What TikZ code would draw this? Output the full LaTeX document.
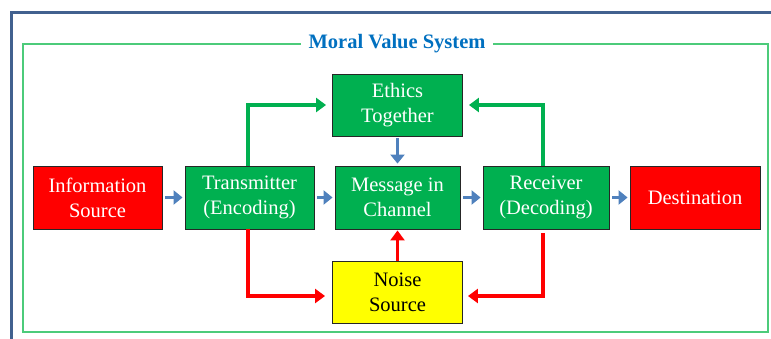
\documentclass[tikz,border=0pt]{standalone}
\usepackage{fontspec}
\setmainfont{Liberation Serif}
\usetikzlibrary{arrows.meta,calc}
\definecolor{boxgreen}{HTML}{00B050}
\definecolor{boxred}{HTML}{FF0000}
\definecolor{boxyellow}{HTML}{FFFF00}
\definecolor{arrblue}{HTML}{4F81BD}
\definecolor{framegreen}{HTML}{4CCB7A}
\definecolor{titleblue}{HTML}{0070C0}
\definecolor{outerblue}{HTML}{41618F}
\tikzset{
  blk/.style={draw=black!85, line width=0.9pt, minimum height=63pt, align=center,
    font=\fontsize{20.5}{25}\selectfont, inner sep=2pt},
  gbox/.style={blk, fill=boxgreen, text=white},
  rbox/.style={blk, fill=boxred, text=white},
  ybox/.style={blk, fill=boxyellow, text=black},
  barrow/.style={draw=arrblue, line width=3.8pt, -{Triangle[length=9pt,width=14pt]}},
  garrow/.style={draw=boxgreen, line width=3.5pt, -{Triangle[length=10pt,width=14pt]}},
  rarrow/.style={draw=boxred, line width=3.5pt, -{Triangle[length=10pt,width=14pt]}},
}
\begin{document}
\begin{tikzpicture}[x=1pt,y=-1pt]
\useasboundingbox (0,0) rectangle (771,338);
\fill[white] (0,0) rectangle (771,338);
% outer frame
\draw[outerblue, line width=3.5pt] (11.5,345) -- (11.5,12.5) -- (780,12.5);
% green frame
\draw[framegreen, line width=1.2pt] (23,44) rectangle (768,332);
\node[fill=white, inner xsep=8pt, inner ysep=2pt, text=titleblue,
  font=\bfseries\fontsize{20.5}{22}\selectfont] (title) at (397,44) {Moral Value System};
% boxes
\node[rbox, minimum width=129pt] (info) at (97.5,197.5) {Information\\Source};
\node[gbox, minimum width=129pt] (trans) at (249.5,197.5) {Transmitter\\(Encoding)};
\node[gbox, minimum width=125pt] (msg) at (397.5,197.5) {Message in\\Channel};
\node[gbox, minimum width=126pt] (recv) at (546,197.5) {Receiver\\(Decoding)};
\node[rbox, minimum width=130pt] (dest) at (695,197.5) {Destination};
\node[gbox, minimum width=130pt, minimum height=62pt] (ethics) at (397.5,105) {Ethics\\Together};
\node[ybox, minimum width=130pt, minimum height=62pt] (noise) at (397.5,292) {Noise\\Source};
% blue arrows
\draw[barrow, shorten <=3pt, shorten >=2pt] (info.east) -- (trans.west);
\draw[barrow, shorten <=3pt, shorten >=2pt] (trans.east) -- (msg.west);
\draw[barrow, shorten <=3pt, shorten >=2pt] (msg.east) -- (recv.west);
\draw[barrow, shorten <=3pt, shorten >=2pt] (recv.east) -- (dest.west);
\draw[barrow, shorten <=2pt, shorten >=2pt] (ethics.south) -- (msg.north);
% green arrows
\draw[garrow, shorten >=6pt] ([xshift=-1.5pt]trans.north) |- (ethics.west);
\draw[garrow, shorten >=6pt] ([xshift=-3pt]recv.north) |- (ethics.east);
% red arrows
\draw[rarrow, shorten >=7pt] ([xshift=-1.5pt]trans.south) |- ([yshift=-4pt]noise.west);
\draw[rarrow, shorten <=4pt, shorten >=5pt] ([xshift=-3pt]recv.south) |- ([yshift=-4pt]noise.east);
\draw[rarrow, shorten >=1pt] (noise.north) -- (msg.south);
\end{tikzpicture}
\end{document}
